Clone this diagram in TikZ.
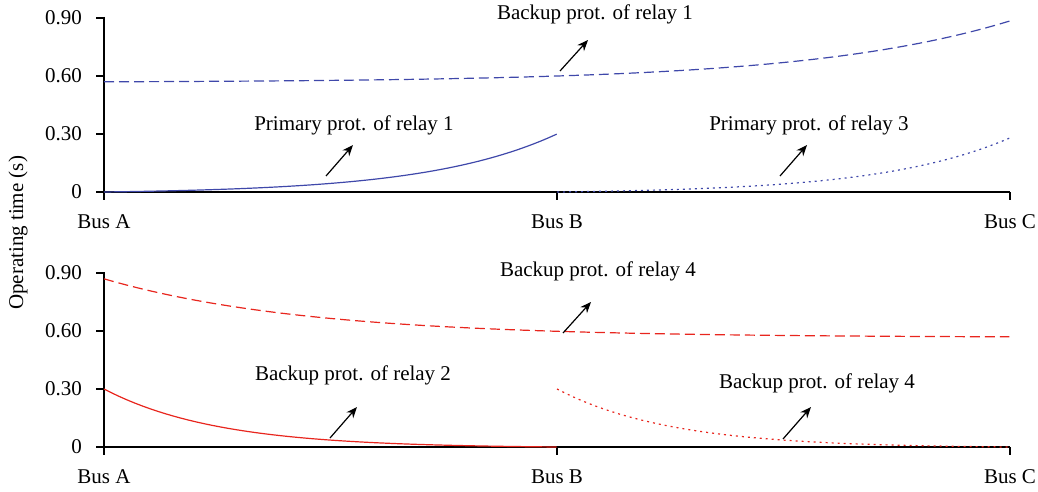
\documentclass[tikz,border=0pt]{standalone}
\usepackage{fontspec}
\setmainfont{Liberation Serif}
\usetikzlibrary{arrows.meta}
\definecolor{relayblue}{HTML}{3F48AA}
\definecolor{relayred}{HTML}{E8261E}

\begin{document}
\begin{tikzpicture}[x=0.5pt, y=-0.5pt,
  axisline/.style={black, line width=0.6pt},
  curve/.style={line width=0.6pt},
  txt/.style={font=\fontsize{10.5}{12}\selectfont},
  ticklbl/.style={txt, anchor=east},
  pointer/.style={-{Stealth[length=5.5pt, width=4.5pt]}, line width=0.6pt},
  dashcurve/.style={dash pattern=on 5pt off 2.5pt},
  dotcurve/.style={dash pattern=on 1pt off 2pt}]
  \useasboundingbox (0,0) rectangle (1038,492);

  % axes of both panels (zero line at y = 192 and y = 447)
  \foreach \yb in {192, 447} {
    \draw[axisline] (104,\yb-175) -- (104,\yb+8);
    \draw[axisline] (104,\yb) -- (1010,\yb);
    \foreach \k/\lab in {0/0, 1/0.30, 2/0.60, 3/0.90} {
      \draw[axisline] (96,\yb-58*\k) -- (104,\yb-58*\k);
      \node[ticklbl] (t\yb-\k) at (89,\yb-58*\k) {\lab};
    }
    \foreach \xb/\bus in {104/A, 557/B, 1010/C} {
      \draw[axisline] (\xb,\yb) -- (\xb,\yb+8);
      \node[txt] (bus\bus\yb) at (\xb,\yb+30) {Bus \bus};
    }
  }
  \node[txt, rotate=90] (ylab) at (18,233) {Operating time (s)};

  % upper panel: relays 1 and 3
  \draw[relayblue, curve, dashcurve] plot[domain=0:1, samples=80]
    ({104+906*\x}, {192-193.3*(0.57+0.315*(exp(4.5*\x)-1)/(exp(4.5)-1))});
  \draw[relayblue, curve] plot[domain=0:1, samples=60]
    ({104+453*\x}, {192-193.3*0.3*(exp(3.5*\x)-1)/(exp(3.5)-1)});
  \draw[relayblue, curve, dotcurve] plot[domain=0:1, samples=60]
    ({557+453*\x}, {192-193.3*0.28*(exp(3.5*\x)-1)/(exp(3.5)-1)});

  % lower panel: relays 2 and 4
  \draw[relayred, curve, dashcurve] plot[domain=0:1, samples=80]
    ({104+906*\x}, {447-193.3*(0.57+0.30*(exp(4.5*(1-\x))-1)/(exp(4.5)-1))});
  \draw[relayred, curve] plot[domain=0:1, samples=60]
    ({104+453*\x}, {447-193.3*0.3*(exp(4*(1-\x))-1)/(exp(4)-1)});
  \draw[relayred, curve, dotcurve] plot[domain=0:1, samples=60]
    ({557+453*\x}, {447-193.3*0.3*(exp(4*(1-\x))-1)/(exp(4)-1)});

  % labels and pointers
  \node[txt] (bk1) at (595,14) {Backup prot. of relay 1};
  \node[txt] (pr1) at (354,125) {Primary prot. of relay 1};
  \node[txt] (pr3) at (809,125) {Primary prot. of relay 3};
  \node[txt] (bk4a) at (598,271) {Backup prot. of relay 4};
  \node[txt] (bk2) at (353,375) {Backup prot. of relay 2};
  \node[txt] (bk4b) at (817,383) {Backup prot. of relay 4};

  \coordinate (bk1s) at (560,71);  \coordinate (bk1e) at (588,40);
  \coordinate (pr1s) at (326,176); \coordinate (pr1e) at (353,145);
  \coordinate (pr3s) at (780,176); \coordinate (pr3e) at (807,145);
  \coordinate (bk4as) at (563,333); \coordinate (bk4ae) at (591,302);
  \coordinate (bk2s) at (330,438); \coordinate (bk2e) at (357,407);
  \coordinate (bk4bs) at (783,439); \coordinate (bk4be) at (811,407);
  \foreach \p in {bk1, pr1, pr3, bk4a, bk2, bk4b}
    \draw[pointer] (\p s) -- (\p e);
\end{tikzpicture}
\end{document}
